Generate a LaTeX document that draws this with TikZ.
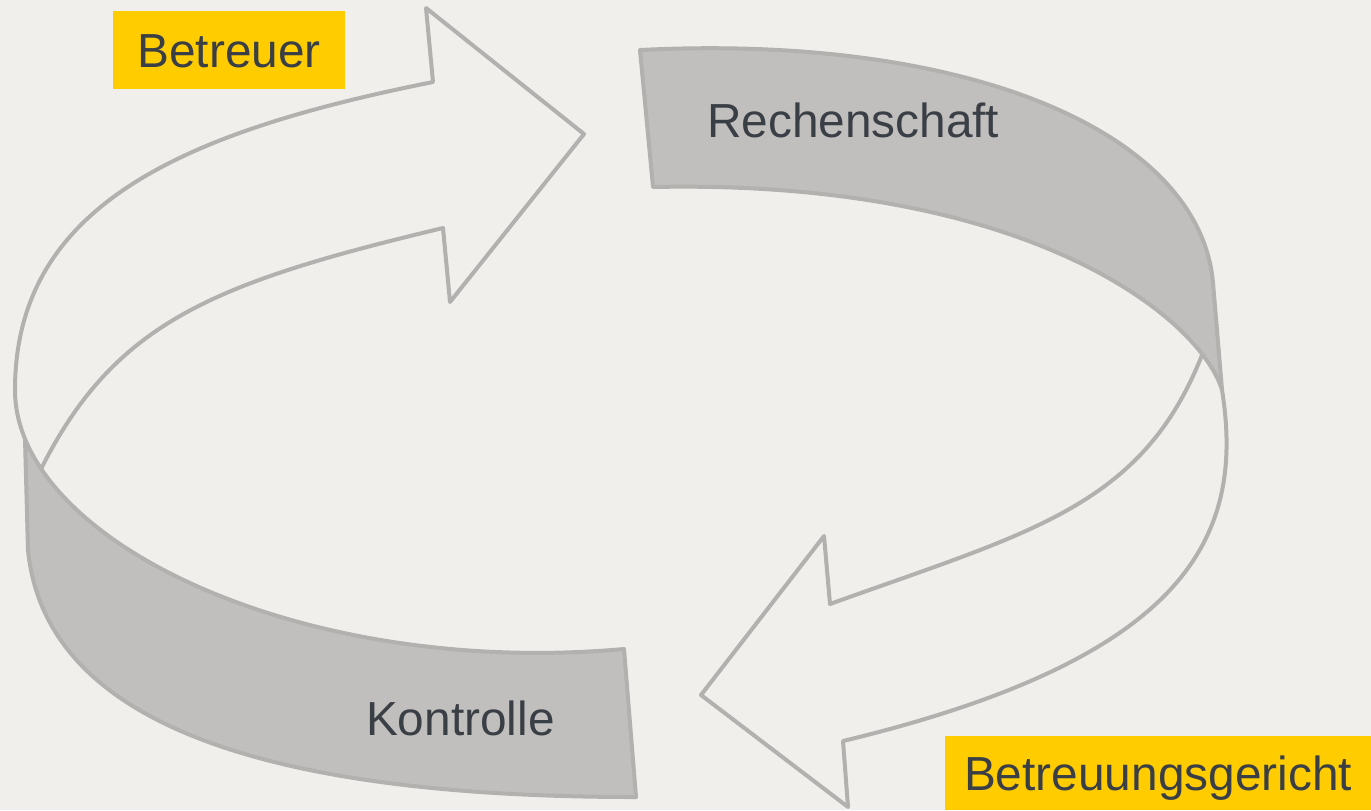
\documentclass[tikz,border=0pt]{standalone}
\usepackage{fontspec}
\setmainfont{Liberation Sans}
\definecolor{bgcol}{HTML}{F0EFEB}
\definecolor{boxcol}{HTML}{FFCC00}
\definecolor{bandcol}{HTML}{C0BFBD}
\definecolor{edgecol}{HTML}{B2B1AF}
\definecolor{textcol}{HTML}{3A3F46}
\begin{document}
\begin{tikzpicture}[x=0.1mm, y=-0.1mm, line join=round,
  every node/.style={font=\fontsize{13.6}{16}\selectfont, text=textcol, inner sep=0pt, outer sep=0pt},
  outline/.style={draw=edgecol, line width=0.4mm},
  band/.style={outline, fill=bandcol},
  labelbox/.style={fill=boxcol, text height=9.7pt, text depth=0pt}]
\useasboundingbox (0,0) rectangle (1371,810);
\fill[bgcol] (0,0) rectangle (1371,810);

\draw[outline] (41,469) .. controls (115,322) and (213,283) .. (443,228) -- (450,302) -- (584,134) -- (426,8) -- (433,82)
  .. controls (183,132) and (15,205) .. (15,390) .. controls (15,406.5) and (18.5,422.9) .. (25,438.9);
\draw[outline] (1202,355) .. controls (1142,507) and (1030,532) .. (830,604) -- (824,536) -- (701,695) -- (848,807) -- (843,741)
  .. controls (1183,659) and (1246,540) .. (1222,390);

\filldraw[band] (1222,390) -- (1213,283) .. controls (1200,133) and (970,33.5) .. (640,50) -- (653,187)
  .. controls (1033,179) and (1201,320) .. (1222,390) -- cycle;
\filldraw[band] (25,438.9) -- (28,550) .. controls (45,720) and (256,797) .. (636,797) -- (624,649)
  .. controls (335.6,674.8) and (78.2,568.3) .. (25,438.9) -- cycle;

\node[labelbox, minimum width=23.2mm, minimum height=7.8mm] (betreuer) at (229,50) {Betreuer};
\node[labelbox, minimum width=42.6mm, minimum height=7.4mm] (gericht) at (1158,773) {Betreuungsgericht};
\node[anchor=base west] (rechenschaft) at (707,137) {Rechenschaft};
\node[anchor=base west] (kontrolle) at (366,735) {Kontrolle};
\end{tikzpicture}
\end{document}
